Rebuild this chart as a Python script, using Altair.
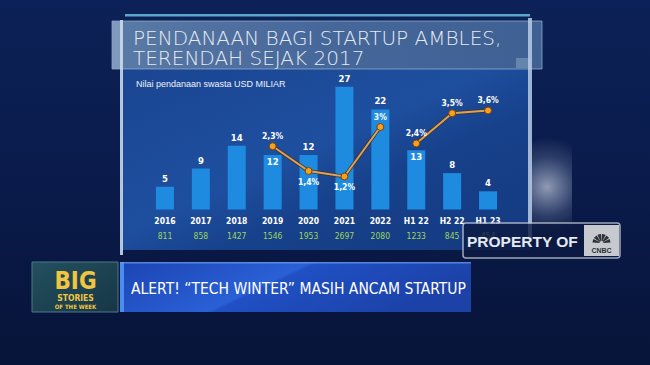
import altair as alt
import pandas as pd
import math

# ---------------- data ----------------
categories = ["2016", "2017", "2018", "2019", "2020", "2021", "2022", "H1 22", "H2 22", "H1 23"]
funding_usd_bn = [5, 9, 14, 12, 12, 27, 22, 13, 8, 4]
deal_counts = ["811", "858", "1427", "1546", "1953", "2697", "2080", "1233", "845", "454"]

pct_categories = ["2019", "2020", "2021", "2022", "H1 22", "H2 22", "H1 23"]
pct_values = [2.3, 1.4, 1.2, 3.0, 2.4, 3.5, 3.6]
pct_labels = ["2,3%", "1,4%", "1,2%", "3%", "2,4%", "3,5%", "3,6%"]
pct_groups = ["annual", "annual", "annual", "annual", "half", "half", "half"]

bar_label_inside = ["2019", "H1 22"]
pct_label_below = ["2020", "2021"]

title_lines = ["PENDANAAN BAGI STARTUP AMBLES,", "TERENDAH SEJAK 2017"]
subtitle = "Nilai pendanaan swasta USD MILIAR"
headline = "ALERT! \u201cTECH WINTER\u201d MASIH ANCAM STARTUP"

bars_df = pd.DataFrame({"cat": categories, "val": funding_usd_bn, "cnt": deal_counts})
pct_df = pd.DataFrame({"cat": pct_categories, "pct": pct_values, "lab": pct_labels, "grp": pct_groups})
one = pd.DataFrame({"a": [0]})

NARROW = "Liberation Sans Narrow, DejaVu Sans Condensed, Arial Narrow, sans-serif"

xs = alt.Scale(type="band", domain=categories, range=[147, 506], paddingInner=0.5, paddingOuter=0.25)
ybar = alt.Scale(domain=[0, 28.57], range=[209.5, 79.5], nice=False, zero=True)
ypct = alt.Scale(domain=[0, 4.727], range=[209.5, 79.5], nice=False, zero=True)
X = alt.X("cat:N", scale=xs, axis=None, sort=categories)


def rect(x, x2, y, y2, **kw):
    return alt.Chart(one).mark_rect(**kw).encode(
        x=alt.value(x), x2=alt.value(x2), y=alt.value(y), y2=alt.value(y2))


def label(text, x, y, **kw):
    return alt.Chart(one).mark_text(text=text, **kw).encode(x=alt.value(x), y=alt.value(y))


layers = []

# background
layers.append(rect(0, 650, 0, 365, color=alt.Gradient(
    gradient="linear", x1=0, y1=0, x2=0, y2=1,
    stops=[alt.GradientStop(color="#0c2157", offset=0),
           alt.GradientStop(color="#0a1b4b", offset=0.5),
           alt.GradientStop(color="#071439", offset=1)])))

# glow at right of panel
layers.append(rect(522, 572, 132, 232, color=alt.Gradient(
    gradient="radial", x1=0.5, y1=0.55, x2=0.5, y2=0.55, r1=0, r2=0.5,
    stops=[alt.GradientStop(color="rgba(235,240,250,0.6)", offset=0),
           alt.GradientStop(color="rgba(200,215,240,0.18)", offset=0.6),
           alt.GradientStop(color="rgba(200,215,240,0)", offset=1)])))

# panel body
layers.append(rect(122, 530, 66, 250, color=alt.Gradient(
    gradient="linear", x1=0, y1=0, x2=1, y2=1,
    stops=[alt.GradientStop(color="#1a4592", offset=0),
           alt.GradientStop(color="#1e4f9f", offset=0.45),
           alt.GradientStop(color="#17418b", offset=0.62),
           alt.GradientStop(color="#143a80", offset=1)])))

# title bar
layers.append(rect(112, 542, 21, 69, stroke="#9db6d6", strokeWidth=1, strokeOpacity=0.7,
                   color=alt.Gradient(gradient="linear", x1=0, y1=0, x2=1, y2=0,
                                      stops=[alt.GradientStop(color="#5a7aa6", offset=0),
                                             alt.GradientStop(color="#45679a", offset=0.5),
                                             alt.GradientStop(color="#3f6092", offset=1)])))
layers.append(rect(112, 122, 21, 69, color="#8aa3c4", opacity=0.8))
layers.append(rect(516, 530, 58, 68, color="#7f9cc2", opacity=0.6))
# top glow line
layers.append(rect(125, 530, 14, 16.5, color="#78d2f5", opacity=0.75))
# vertical edge lines
layers.append(rect(120, 123, 20, 255, color="#c9d8ea", opacity=0.9))
layers.append(rect(528, 532, 18, 240, color="#b9cde4", opacity=0.85))

# titles
layers.append(label(title_lines[0], 133, 45, font="DejaVu Sans", fontWeight=300, fontSize=20,
                    color="#e6ebf2", align="left", baseline="alphabetic"))
layers.append(label(title_lines[1], 133, 64.5, font="DejaVu Sans", fontWeight=300, fontSize=20,
                    color="#e6ebf2", align="left", baseline="alphabetic"))
layers.append(label(subtitle, 136, 83.5, font="Liberation Sans, Arial, sans-serif", fontSize=9,
                    color="#f0f3f8", align="left", baseline="middle"))

# ---------------- data marks ----------------
bars = alt.Chart(bars_df).mark_bar(color="#1f8be0", size=18).encode(
    x=X, y=alt.Y("val:Q", scale=ybar, axis=None))
layers.append(bars)

bar_lab_above = alt.Chart(bars_df).transform_filter(
    {"not": alt.FieldOneOfPredicate(field="cat", oneOf=bar_label_inside).to_dict()}
).mark_text(font=NARROW, fontWeight="bold", fontSize=9.5, color="#ffffff", baseline="bottom", dy=-3).encode(
    x=X, y=alt.Y("val:Q", scale=ybar, axis=None), text="val:Q")
layers.append(bar_lab_above)

bar_lab_inside = alt.Chart(bars_df).transform_filter(
    alt.FieldOneOfPredicate(field="cat", oneOf=bar_label_inside)
).mark_text(font=NARROW, fontWeight="bold", fontSize=9.5, color="#ffffff", baseline="top", dy=2).encode(
    x=X, y=alt.Y("val:Q", scale=ybar, axis=None), text="val:Q")
layers.append(bar_lab_inside)

line_shadow = alt.Chart(pct_df).mark_line(color="#4a2c12", strokeWidth=3.6, opacity=0.8).encode(
    x=X, y=alt.Y("pct:Q", scale=ypct, axis=None), detail="grp:N")
line = alt.Chart(pct_df).mark_line(color="#dba456", strokeWidth=2).encode(
    x=X, y=alt.Y("pct:Q", scale=ypct, axis=None), detail="grp:N")
pts = alt.Chart(pct_df).mark_point(filled=True, color="#f7a21f", size=48, stroke="#7a3f0c",
                                   strokeWidth=1, opacity=1).encode(
    x=X, y=alt.Y("pct:Q", scale=ypct, axis=None))
layers += [line_shadow, line, pts]

pct_above = alt.Chart(pct_df).transform_filter(
    {"not": alt.FieldOneOfPredicate(field="cat", oneOf=pct_label_below).to_dict()}
).mark_text(font=NARROW, fontWeight="bold", fontSize=8.5, color="#ffffff", baseline="bottom", dy=-5).encode(
    x=X, y=alt.Y("pct:Q", scale=ypct, axis=None), text="lab:N")
pct_below = alt.Chart(pct_df).transform_filter(
    alt.FieldOneOfPredicate(field="cat", oneOf=pct_label_below)
).mark_text(font=NARROW, fontWeight="bold", fontSize=8.5, color="#ffffff", baseline="top", dy=7).encode(
    x=X, y=alt.Y("pct:Q", scale=ypct, axis=None), text="lab:N")
layers += [pct_above, pct_below]

cat_labels = alt.Chart(bars_df).mark_text(font=NARROW, fontWeight="bold", fontSize=8.5, color="#ffffff",
                                          baseline="middle").encode(x=X, y=alt.value(221), text="cat:N")
cnt_labels = alt.Chart(bars_df).mark_text(font=NARROW, fontSize=8.5, color="#9fd45c",
                                          baseline="middle").encode(x=X, y=alt.value(236), text="cnt:N")
layers += [cat_labels, cnt_labels]

# ---------------- overlays ----------------
# property-of watermark
layers.append(alt.Chart(one).mark_rect(color="#0d1a42", opacity=0.8, stroke="#c3cbd8", strokeWidth=1.5,
                                       cornerRadius=3).encode(
    x=alt.value(463), x2=alt.value(620), y=alt.value(223), y2=alt.value(258)))
layers.append(label("PROPERTY OF", 467, 247, font="Liberation Sans, Arial, sans-serif", fontWeight="bold",
                    fontSize=15.5, color="#e6eaf1", align="left", baseline="alphabetic"))
layers.append(rect(584, 619, 225, 256, color="#c6c9cd"))
for i in range(6):
    t0 = 1.5 * math.pi + i * math.pi / 6 + 0.05
    layers.append(alt.Chart(one).mark_arc(radius=9, radius2=2, theta=t0, theta2=t0 + math.pi / 6 - 0.1,
                                          color="#2f3237").encode(x=alt.value(601.5), y=alt.value(243)))
layers.append(label("CNBC", 601.5, 250.5, font="Liberation Sans, Arial, sans-serif", fontWeight="bold",
                    fontSize=7, color="#2f3237", baseline="middle"))

# lower third: BIG STORIES box
layers.append(rect(32, 118, 262, 312, stroke="#4e7888", strokeWidth=1, color=alt.Gradient(
    gradient="linear", x1=0, y1=0, x2=1, y2=1,
    stops=[alt.GradientStop(color="#24505f", offset=0),
           alt.GradientStop(color="#163646", offset=1)])))
layers.append(label("BIG", 75.5, 289, font=NARROW, fontWeight="bold", fontSize=24, color="#f1c63e",
                    baseline="alphabetic"))
layers.append(label("STORIES", 75.5, 300.5, font=NARROW, fontWeight="bold", fontSize=8.5, color="#f1c63e",
                    baseline="alphabetic"))
layers.append(label("OF THE WEEK", 75.5, 308.5, font=NARROW, fontWeight="bold", fontSize=6, color="#f1c63e",
                    baseline="alphabetic"))

# headline banner
layers.append(rect(120, 471, 262, 312, color=alt.Gradient(
    gradient="linear", x1=0, y1=0, x2=1, y2=0.3,
    stops=[alt.GradientStop(color="#1c44b2", offset=0),
           alt.GradientStop(color="#2a60d6", offset=0.5),
           alt.GradientStop(color="#2050c4", offset=0.52),
           alt.GradientStop(color="#1c42a8", offset=1)])))
layers.append(rect(120, 124, 262, 312, color="#4a8ef0"))
layers.append(rect(120, 471, 262, 263.5, color="#6fa0f0", opacity=0.7))
layers.append(label(headline, 131, 293.5, font=NARROW, fontSize=15.5, color="#ffffff", align="left",
                    baseline="alphabetic"))

chart = alt.layer(*layers).resolve_scale(y="independent").properties(
    width=650, height=365, padding=0, autosize="none", background="#0a1a46"
).configure_view(strokeWidth=0)

chart.save("out.html", embed_options={"renderer": "svg", "actions": False})
